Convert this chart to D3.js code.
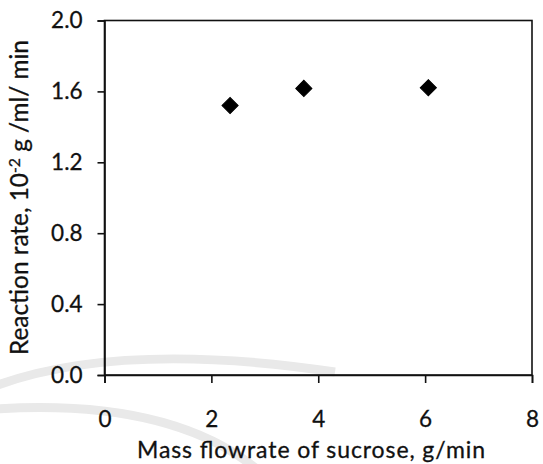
<!DOCTYPE html>
<html><head><meta charset="utf-8">
<script src="https://cdn.jsdelivr.net/npm/d3@7"></script>
<style>body{margin:0;background:#fff}svg{display:block}text{font-family:Lato,"Open Sans",sans-serif;fill:#111}</style>
</head><body><svg id="c" width="543" height="464"></svg>
<script>
const flowrate = [2.35, 3.73, 6.06];
const reactionRate = [1.52, 1.617, 1.621];
const xTicks = [0, 2, 4, 6, 8];
const yTicks = [0.0, 0.4, 0.8, 1.2, 1.6, 2.0];
const xTitle = "Mass flowrate of sucrose, g/min";

const svg = d3.select("#c");
const m = {l:104.5, r:532, t:20.5, b:375};
const x = d3.scaleLinear().domain([0,8]).range([m.l, m.r]);
const y = d3.scaleLinear().domain([0,2]).range([m.b, m.t]);

// faint background watermark arcs
const wm = svg.append("g").attr("fill","none").attr("stroke","#e9e9e9").attr("stroke-width",9);
wm.append("path").attr("d","M-5,386 Q120,340 335,372");
wm.append("path").attr("d","M-5,409 Q170,398 258,470");

// frame
svg.append("rect").attr("x", m.l).attr("y", m.t).attr("width", m.r-m.l).attr("height", m.b-m.t)
  .attr("fill","none").attr("stroke","#111").attr("stroke-width",1.6);

const xa = svg.append("g").attr("transform",`translate(0,${m.b})`)
  .call(d3.axisBottom(x).tickValues(xTicks).tickFormat(d3.format("d")).tickSize(8));
const ya = svg.append("g").attr("transform",`translate(${m.l},0)`)
  .call(d3.axisLeft(y).tickValues(yTicks).tickFormat(d3.format(".1f")).tickSize(7).tickPadding(15));
[xa,ya].forEach(a=>{
  a.select(".domain").attr("stroke","#111").attr("stroke-width",1.6);
  a.selectAll(".tick line").attr("stroke","#111").attr("stroke-width",1.6);
  a.selectAll("text").style("font-size","22.5px").style("font-family","Lato, 'Open Sans', sans-serif")
    .attr("fill","#111").attr("stroke","#111").attr("stroke-width",0.3);
});
xa.selectAll(".tick text").attr("y",36.4);

// points
const sym = d3.symbol().type(d3.symbolSquare).size(130);
svg.append("g").selectAll("path").data(flowrate.map((v,i)=>[v,reactionRate[i]])).join("path")
  .attr("d", sym).attr("transform", d=>`translate(${x(d[0])},${y(d[1])}) rotate(45)`)
  .attr("fill","#000").attr("stroke","#000").attr("stroke-width",1);

// titles
svg.append("text").attr("x",311).attr("y",458).attr("text-anchor","middle")
  .style("font-size","23px").attr("stroke","#111").attr("stroke-width",0.3)
  .attr("textLength",348).attr("lengthAdjust","spacing").text(xTitle);
const yt = svg.append("text").attr("transform","translate(28,197.5) rotate(-90)").attr("text-anchor","middle")
  .attr("stroke","#111").attr("stroke-width",0.3);
yt.append("tspan").attr("class","m").text("Reaction rate, 10");
yt.append("tspan").attr("class","s").attr("dy",-8).text("-2");
yt.append("tspan").attr("class","m").attr("dy",8).text(" g /ml/ min");
function sizeY(fs){ yt.selectAll(".m").style("font-size",fs+"px"); yt.selectAll(".s").style("font-size",(fs*0.65)+"px"); }
sizeY(21.5);
const len = yt.node().getComputedTextLength();
sizeY(Math.max(18, Math.min(26, 21.5*315/len)));
</script></body></html>
